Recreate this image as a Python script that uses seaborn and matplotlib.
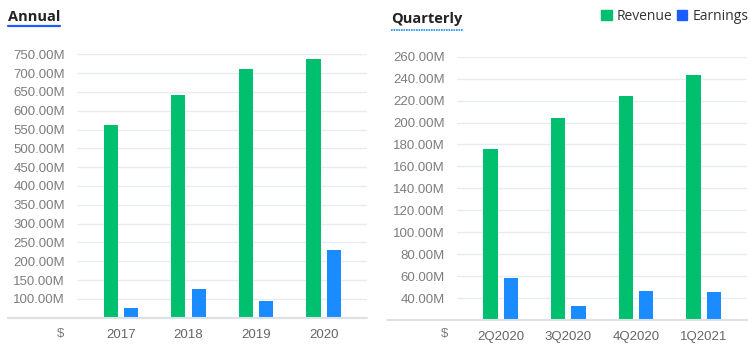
import matplotlib
matplotlib.use("Agg")
import matplotlib.pyplot as plt
import pandas as pd
import seaborn as sns

# values in millions of $
years = ["2017", "2018", "2019", "2020"]
annual_revenue = [561, 641, 712, 737]
annual_earnings = [76, 125, 95, 229]

quarters = ["2Q2020", "3Q2020", "4Q2020", "1Q2021"]
quarterly_revenue = [176, 204, 224, 243]
quarterly_earnings = [58.5, 33, 46, 45.5]

series = ["Revenue", "Earnings"]
bar_colors = {"Revenue": "#00bf6f", "Earnings": "#1a8cff"}
legend_colors = {"Revenue": "#00bf6f", "Earnings": "#1a5cff"}

sns.set_style("white")
plt.rcParams["font.family"] = ["Liberation Sans", "DejaVu Sans"]

W, H = 750, 352
fig = plt.figure(figsize=(W / 100, H / 100), dpi=100)


def px_axes(x0, y_top, x1, y_bot):
    return fig.add_axes([x0 / W, 1 - y_bot / H, (x1 - x0) / W, (y_bot - y_top) / H])


def long_df(cats, rev, earn):
    return pd.DataFrame({
        "period": cats * 2,
        "series": ["Revenue"] * len(cats) + ["Earnings"] * len(cats),
        "value": rev + earn,
    })


def draw_panel(ax, df, cats, ylim, ticks, base_x0):
    sns.barplot(data=df, x="period", y="value", hue="series", order=cats,
                hue_order=series, palette=bar_colors, width=0.6, gap=0.3,
                linewidth=0, saturation=1, ax=ax, legend=False)
    ax.set_xlim(-0.65, 3.64)
    ax.set_ylim(*ylim)
    ax.set_yticks(ticks)
    ax.set_yticklabels([f"{t:.2f}M" for t in ticks])
    ax.grid(axis="y", color="#e9ebf0", linewidth=1.0)
    ax.set_axisbelow(True)
    for s in ax.spines.values():
        s.set_visible(False)
    ax.tick_params(axis="y", length=0, pad=8.5, labelsize=9.5, labelcolor="#7d7d7d")
    ax.tick_params(axis="x", length=0, pad=8, labelsize=9.5, labelcolor="#666666")
    ax.set_xlabel("")
    ax.set_ylabel("")
    # baseline extends to the left under the tick labels
    x0 = (base_x0 - ax.get_position().x0 * W) / (ax.get_position().width * W)
    ax.plot([x0, 1], [0, 0], transform=ax.transAxes, color="#dde0e7",
            linewidth=1.5, clip_on=False, zorder=3)


ax1 = px_axes(77, 54.3, 367, 317.7)
draw_panel(ax1, long_df(years, annual_revenue, annual_earnings), years,
           (50, 750), list(range(100, 751, 50)), 8)

ax2 = px_axes(456.7, 56.7, 747, 320)
draw_panel(ax2, long_df(quarters, quarterly_revenue, quarterly_earnings), quarters,
           (20, 260), list(range(40, 261, 20)), 387)

fig.text(61 / W, 1 - 334 / H, "$", ha="center", va="center", fontsize=9.5, color="#7d7d7d")
fig.text(445 / W, 1 - 334 / H, "$", ha="center", va="center", fontsize=9.5, color="#7d7d7d")

# titles with underline
fig.text(8 / W, 1 - 20.7 / H, "Annual", ha="left", va="baseline", fontsize=10.5,
         fontweight="bold", family=["Open Sans", "DejaVu Sans"], color="#222222")
fig.add_artist(plt.Line2D([8 / W, 60 / W], [1 - 26 / H, 1 - 26 / H], color="#1a5cff", linewidth=1.6))
fig.text(391 / W, 1 - 23.5 / H, "Quarterly", ha="left", va="baseline", fontsize=10.5,
         fontweight="bold", family=["Open Sans", "DejaVu Sans"], color="#222222")
fig.add_artist(plt.Line2D([391 / W, 463 / W], [1 - 29.5 / H, 1 - 29.5 / H], color="#1a8cff",
                          linewidth=1.2, linestyle=(0, (1, 0.5))))

# legend
handles = [plt.Rectangle((0, 0), 1, 1, color=legend_colors[s]) for s in series]
fig.legend(handles, series, loc="upper right", bbox_to_anchor=(749 / W, 1 - 9 / H),
           ncol=2, frameon=False, handlelength=0.75, handleheight=0.75,
           handletextpad=0.4, columnspacing=0.3, borderaxespad=0, borderpad=0,
           prop={"family": ["Open Sans", "DejaVu Sans"], "size": 10}, labelcolor="#333333")

fig.savefig("out.png", dpi=100)
